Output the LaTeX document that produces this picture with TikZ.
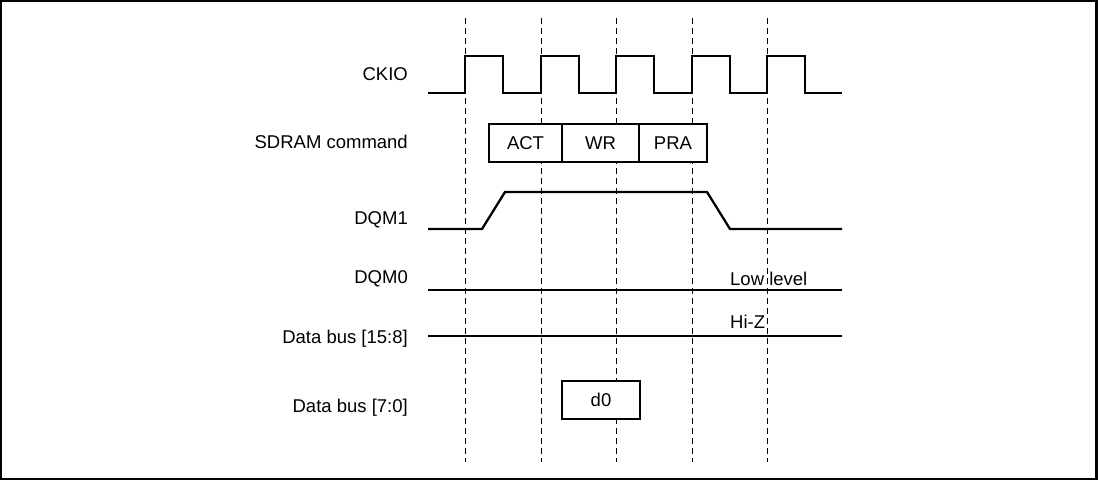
\documentclass[tikz,border=0pt]{standalone}
\usepackage{fontspec}
\setmainfont{Liberation Sans}
\usetikzlibrary{positioning}

\begin{document}
\begin{tikzpicture}[
        x=1pt, y=-1pt,
        font=\fontsize{18.5}{21}\selectfont,
        sig/.style = {draw, line width=2.3pt, line join=miter},
        guide/.style = {draw, line width=1pt, dash pattern=on 6pt off 4pt},
        cmd/.style = {rectangle, draw, fill=white, line width=2pt, minimum height=38pt, inner sep=0pt, outer sep=0pt},
        lbl/.style = {anchor=base east, inner sep=0pt},
        note/.style = {anchor=base west, inner sep=0pt}
    ]
    
    \useasboundingbox (0,0) rectangle (1100,481);
    \draw[line width=2.3pt] (1.2,1.2) rectangle (1096.5,479.3);
    
    % Clock edge guides
    \foreach \gx in {465,541,616,692,767}
        \draw[guide] (\gx,18) -- (\gx,462);
    
    % Signal names
    \node[lbl] at (408,81) (ckio) {CKIO};
    \node[lbl] at (408,149) (sdram) {SDRAM command};
    \node[lbl] at (408,224.5) (dqm1) {DQM1};
    \node[lbl] at (408,283.5) (dqm0) {DQM0};
    \node[lbl] at (408,343.5) (bushi) {Data bus [15:8]};
    \node[lbl] at (408,412) (buslo) {Data bus [7:0]};
    
    % CKIO
    \draw[sig] (428,93) foreach \cx in {465,541,616,692,767} {
        -- (\cx,93) -- (\cx,56) -- ({\cx+38},56) -- ({\cx+38},93) } -- (842,93);
    
    % SDRAM command
    \node[cmd, minimum width=73pt] at (525.5,143) (act) {ACT};
    \node[cmd, minimum width=77pt, right=0pt of act] (wr) {WR};
    \node[cmd, minimum width=68pt, right=0pt of wr] (pra) {PRA};
    
    % DQM1
    \draw[sig] (428,229) -- (482,229) -- (505,192) -- (707,192) -- (730,229) -- (842,229);
    
    % DQM0
    \draw[sig] (428,290) -- (842,290);
    \node[note] at (730,285.5) (low) {Low level};
    
    % Data bus [15:8]
    \draw[sig] (428,336) -- (842,336);
    \node[note] at (730,328.5) (hiz) {Hi-Z};
    
    % Data bus [7:0]
    \node[cmd, minimum width=78pt] at (601,400) (d0) {d0};
    
\end{tikzpicture}
\end{document}
